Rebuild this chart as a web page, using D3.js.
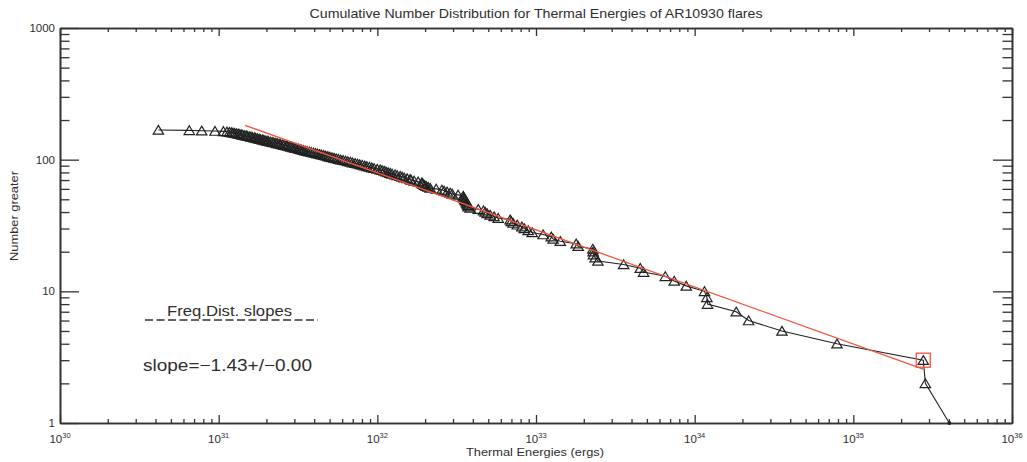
<!DOCTYPE html>
<html><head><meta charset="utf-8">
<script src="https://cdn.jsdelivr.net/npm/d3@7"></script>
<style>
body{margin:0;background:#fff}
svg text{font-family:"Liberation Sans",Arial,Helvetica,sans-serif;fill:#2e2e2e}
</style>
</head><body><svg id="chart" width="1027" height="462"></svg>
<script>
// ---- data (log10 of thermal energy in ergs, ascending) ----
const logEnergies = [
30.620,30.815,30.893,30.977,31.030,31.052,31.068,31.080,31.090,31.101,
31.113,31.124,31.133,31.145,31.152,31.165,31.174,31.183,31.196,31.204,
31.213,31.225,31.233,31.244,31.255,31.262,31.275,31.284,31.293,31.305,
31.313,31.325,31.337,31.347,31.360,31.369,31.381,31.390,31.403,31.412,
31.425,31.434,31.447,31.457,31.468,31.480,31.489,31.502,31.512,31.523,
31.534,31.545,31.557,31.571,31.583,31.597,31.610,31.622,31.636,31.648,
31.662,31.675,31.688,31.700,31.714,31.727,31.741,31.755,31.769,31.784,
31.800,31.814,31.830,31.844,31.860,31.875,31.889,31.905,31.920,31.934,
31.950,31.965,31.980,31.999,32.018,32.030,32.043,32.055,32.068,32.081,
32.093,32.112,32.125,32.144,32.156,32.169,32.188,32.207,32.213,32.232,
32.257,32.281,32.282,32.289,32.298,32.308,32.320,32.333,32.371,32.407,
32.421,32.440,32.459,32.472,32.509,32.541,32.544,32.547,32.551,32.554,
32.560,32.564,32.566,32.570,32.573,32.585,32.636,32.669,32.680,32.692,
32.711,32.736,32.762,32.837,32.844,32.856,32.882,32.911,32.926,32.951,
32.976,33.045,33.096,33.108,33.153,33.253,33.266,33.358,33.360,33.362,
33.373,33.390,33.552,33.657,33.678,33.815,33.871,33.947,34.062,34.077,
34.081,34.262,34.340,34.550,34.897,35.441,35.454,35.605];
// number of flares greater (cumulative count) for each energy above
const counts = [
168,167,166,165,164,163,162,161,160,159,158,157,156,155,154,153,152,151,150,149,
148,147,146,145,144,143,142,141,140,139,138,137,136,135,134,133,132,131,130,129,
128,127,126,125,124,123,122,121,120,119,118,117,116,115,114,113,112,111,110,109,
108,107,106,105,104,103,102,101,100,99,98,97,96,95,94,93,92,91,90,89,
88,87,86,85,84,83,82,81,80,79,78,77,76,75,74,73,72,71,70,69,
68,67,66,65,64,63,62,61,60,59,58,57,56,55,54,53,52,51,50,49,
48,47,46,45,44,43,42,41,40,39,38,37,36,35,34,33,32,31,30,29,
28,27,26,25,24,23,22,21,20,19,18,17,16,15,14,13,12,11,10,9,
8,7,6,5,4,3,2,1];
// power-law fit line (red)
const fitEnergies = [1.466e31, 2.754e35];
const fitCounts = [182.4, 2.57];
// boxed point (end of fit range)
const boxedEnergies = [2.76e35];
const boxedCounts = [3];
// axis ticks
const xTickExponents = [30,31,32,33,34,35,36];
const yTickValues = [1,10,100,1000];
const yTickLabels = ["1","10","100","1000"];
const titleText = "Cumulative Number Distribution for Thermal Energies of AR10930 flares";
const xTitle = "Thermal Energies (ergs)";
const yTitle = "Number greater";
const legendTitle = "Freq.Dist. slopes";
const slopeText = "slope=\u22121.43+/\u22120.00";

// ---- layout ----
const L = 60, R = 1012, T = 28, B = 423;
const axisColor = "#333";
const svg = d3.select("#chart");
svg.append("rect").attr("width",1027).attr("height",462).attr("fill","#fff");

const x = d3.scaleLog().domain([1e30,1e36]).range([L,R]);
const y = d3.scaleLog().domain([1,1000]).range([B,T]);

const xMajor = xTickExponents.map(e => Math.pow(10,e));
const xMinor = [];
for (let e = 30; e < 36; e++) for (let m = 2; m <= 9; m++) xMinor.push(m*Math.pow(10,e));
const yMinor = [];
for (let e = 0; e < 3; e++) for (let m = 2; m <= 9; m++) yMinor.push(m*Math.pow(10,e));

function styleAxis(g){
  g.selectAll("path.domain").attr("stroke",axisColor).attr("stroke-width",1.6);
  g.selectAll(".tick line").attr("stroke",axisColor).attr("stroke-width",1.3);
  g.selectAll(".tick text").remove();
}
// bottom / top
[[d3.axisBottom, B, -8, -4],[d3.axisTop, T, -8, -4]].forEach(([fn, pos, maj, mn]) => {
  svg.append("g").attr("transform",`translate(0,${pos})`)
    .call(fn(x).tickValues(xMajor).tickSize(maj).tickSizeOuter(0).tickFormat(""))
    .call(styleAxis);
  svg.append("g").attr("transform",`translate(0,${pos})`)
    .call(fn(x).tickValues(xMinor).tickSize(mn).tickSizeOuter(0).tickFormat(""))
    .call(styleAxis);
});
[[d3.axisLeft, L],[d3.axisRight, R]].forEach(([fn,pos]) => {
  svg.append("g").attr("transform",`translate(${pos},0)`)
    .call(fn(y).tickValues(yTickValues).tickSize(-19).tickSizeOuter(0).tickFormat(""))
    .call(styleAxis);
  svg.append("g").attr("transform",`translate(${pos},0)`)
    .call(fn(y).tickValues(yMinor).tickSize(-9.5).tickSizeOuter(0).tickFormat(""))
    .call(styleAxis);
});

// tick labels
svg.append("g").selectAll("text").data(yTickValues).join("text")
  .attr("x", L-5).attr("y", d => y(d)+4).attr("text-anchor","end")
  .attr("font-size", 11.5).text((d,i) => yTickLabels[i]);
const xl = svg.append("g").selectAll("text").data(xTickExponents).join("text")
  .attr("x", d => x(Math.pow(10,d))).attr("y", 443).attr("text-anchor","middle")
  .attr("font-size", 11.5);
xl.append("tspan").text("10");
xl.append("tspan").attr("font-size",7.5).attr("dy",-5).text(d => d);

// titles
svg.append("text").attr("x",536).attr("y",18).attr("text-anchor","middle")
  .attr("font-size",13).attr("textLength",453).attr("lengthAdjust","spacingAndGlyphs").text(titleText);
svg.append("text").attr("x",535).attr("y",456).attr("text-anchor","middle")
  .attr("font-size",11).attr("textLength",138).attr("lengthAdjust","spacingAndGlyphs").text(xTitle);
svg.append("text").attr("transform","translate(18,216) rotate(-90)").attr("text-anchor","middle")
  .attr("font-size",11).attr("textLength",90).attr("lengthAdjust","spacingAndGlyphs").text(yTitle);

// legend
svg.append("line").attr("x1",145).attr("x2",318).attr("y1",320).attr("y2",320)
  .attr("stroke","#333").attr("stroke-width",1.3).attr("stroke-dasharray","8,3.5");
svg.append("text").attr("x",167).attr("y",316).attr("font-size",14.5)
  .attr("textLength",125).attr("lengthAdjust","spacingAndGlyphs").text(legendTitle);
svg.append("text").attr("x",143).attr("y",371).attr("font-size",16.5)
  .attr("textLength",169).attr("lengthAdjust","spacingAndGlyphs").text(slopeText);

// data
const pts = logEnergies.map((le,i) => ({e: Math.pow(10,le), n: counts[i]}));
const line = d3.line().x(d => x(d.e)).y(d => y(d.n));
svg.append("path").datum(pts).attr("d", line).attr("fill","none")
  .attr("stroke","#222").attr("stroke-width",1.1);
const tri = "M0,-4.6L5.2,4.2L-5.2,4.2Z";
svg.append("g").selectAll("path").data(pts.filter(d => d.n > 1)).join("path")
  .attr("transform", d => `translate(${x(d.e)},${y(d.n)})`)
  .attr("d", tri).attr("fill","none").attr("stroke","#222").attr("stroke-width",1.2);
svg.append("g").selectAll("circle").data(pts.filter(d => d.n === 1)).join("circle")
  .attr("cx", d => x(d.e)).attr("cy", d => y(d.n)).attr("r",2).attr("fill","#222");

// fit line & box
const fitPts = fitEnergies.map((e,i) => ({e, n: fitCounts[i]}));
svg.append("path").datum(fitPts).attr("d", line).attr("fill","none")
  .attr("stroke","#f2553f").attr("stroke-width",1.3);
svg.append("g").selectAll("rect").data(boxedEnergies.map((e,i)=>({e,n:boxedCounts[i]}))).join("rect")
  .attr("x", d => x(d.e)-7).attr("y", d => y(d.n)-7).attr("width",14).attr("height",14)
  .attr("fill","none").attr("stroke","#f2553f").attr("stroke-width",1.3);
</script></body></html>
